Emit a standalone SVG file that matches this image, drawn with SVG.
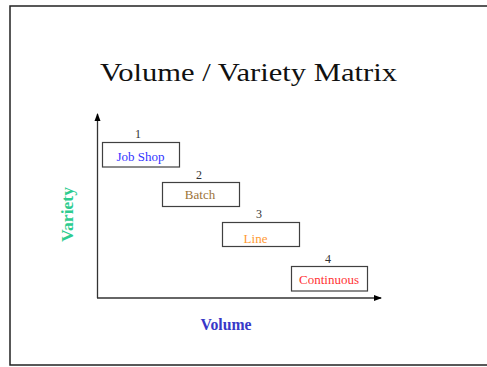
<svg xmlns="http://www.w3.org/2000/svg" width="487" height="367" viewBox="0 0 487 367">
<style>
text{font-family:"Liberation Serif","Times New Roman",serif}
.box{fill:#fff;stroke:#404040;stroke-width:1.2}
.num{font-size:12px;fill:#333;text-anchor:middle}
.lbl{font-size:13px;text-anchor:middle}
.axis{stroke:#333;stroke-width:1.3;fill:none}
</style>
<defs>
<marker id="arr" markerWidth="8" markerHeight="8" refX="7" refY="4" orient="auto" markerUnits="userSpaceOnUse">
<path d="M0,1 L8,4 L0,7 Z" fill="#000"/>
</marker>
</defs>
<rect x="0" y="0" width="487" height="367" fill="#fff"/>
<rect x="10" y="6" width="490" height="359" fill="none" stroke="#222" stroke-width="1.5"/>
<text id="title" x="100" y="81" font-size="26" fill="#111" textLength="297" lengthAdjust="spacingAndGlyphs">Volume / Variety Matrix</text>
<g id="connectors">
<path class="axis" d="M97.5,298 L97.5,114" marker-end="url(#arr)"/>
<path class="axis" d="M97,298 L381,298" marker-end="url(#arr)"/>
</g>
<g id="jobshop">
<text class="num" x="138" y="138">1</text>
<rect class="box" x="102.5" y="142.5" width="77" height="24.5"/>
<text class="lbl" x="140.5" y="161" fill="#3333ff">Job Shop</text>
</g>
<g id="batch">
<text class="num" x="199" y="179">2</text>
<rect class="box" x="162.5" y="182.5" width="77" height="24"/>
<text class="lbl" x="200" y="199" fill="#9c7338">Batch</text>
</g>
<g id="line">
<text class="num" x="259" y="218">3</text>
<rect class="box" x="222.5" y="222.5" width="77" height="24"/>
<text class="lbl" x="255.5" y="242.5" fill="#ff9933">Line</text>
</g>
<g id="continuous">
<text class="num" x="328" y="262.5">4</text>
<rect class="box" x="291.5" y="266.5" width="76" height="24.5"/>
<text class="lbl" x="329" y="283.5" fill="#ff3333">Continuous</text>
</g>
<g id="variety">
<text x="0" y="0" font-size="16" font-weight="bold" fill="#2ecc8f" text-anchor="middle" textLength="55" lengthAdjust="spacingAndGlyphs" transform="translate(73,214.5) rotate(-90)">Variety</text>
</g>
<g id="volume">
<text x="226" y="329.5" font-size="16" font-weight="bold" fill="#3838c8" text-anchor="middle" textLength="51" lengthAdjust="spacingAndGlyphs">Volume</text>
</g>
</svg>
